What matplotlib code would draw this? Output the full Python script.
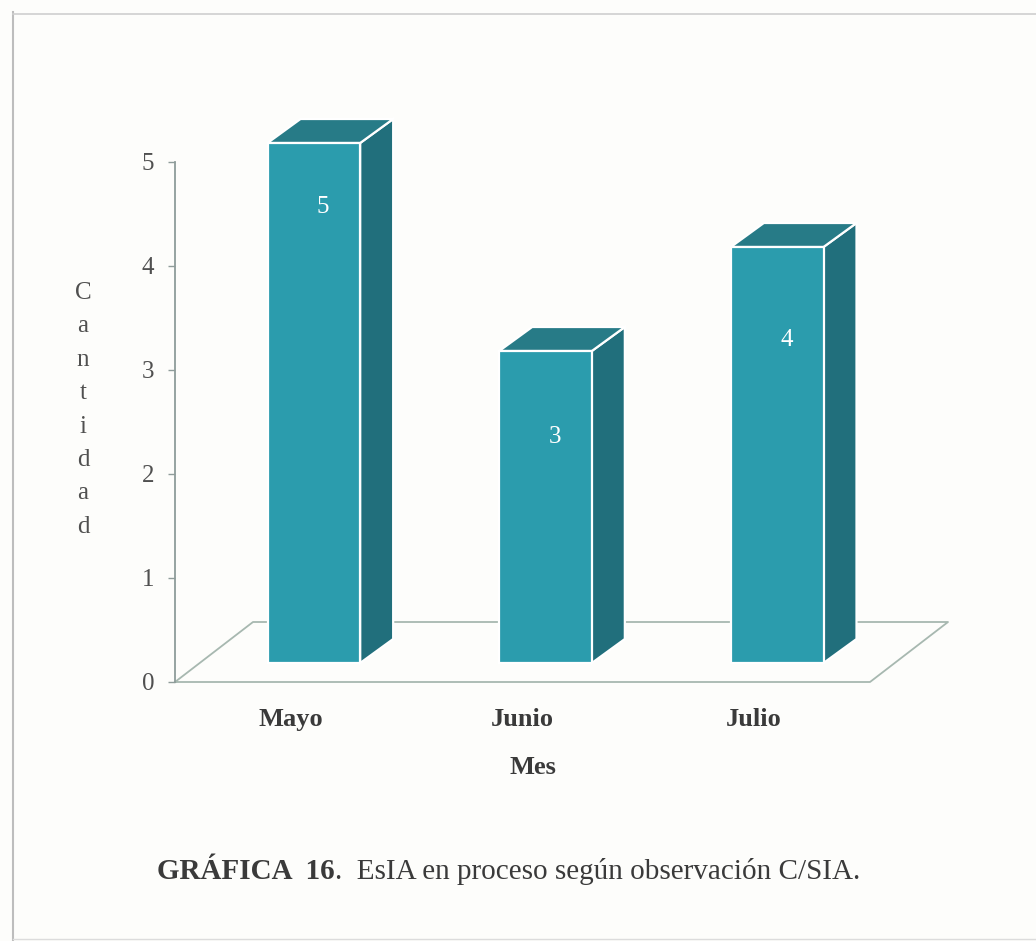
import matplotlib.pyplot as plt
from matplotlib.patches import Polygon

# datos de la gráfica
meses = ["Mayo", "Junio", "Julio"]
cantidad = [5, 3, 4]
y_ticks = [0, 1, 2, 3, 4, 5]
y_label = "Cantidad"
x_label = "Mes"
titulo_num = "GRÁFICA  16"
titulo_txt = ".  EsIA en proceso según observación C/SIA."

W, H = 1036, 941
plt.rcParams['font.family'] = ['Liberation Serif', 'DejaVu Serif']

fig = plt.figure(figsize=(W / 100, H / 100), dpi=100)
fig.patch.set_facecolor('#fdfdfb')

# ejes: y=0 en px 682, y=5 en px 162 ; x de 175 a 870
ax = fig.add_axes([175 / W, 1 - 682 / H, (870 - 175) / W, (682 - 162) / H])
ax.set_facecolor('none')
ax.set_xlim(-0.5, len(meses) - 0.5)
ax.set_ylim(0, 5)

px_x = (870 - 175) / len(meses)   # px por unidad x
px_y = (682 - 162) / 5            # px por unidad y

# piso en perspectiva
fdx, fdy = 78 / px_x, 60 / px_y
x0, x1 = -0.5, len(meses) - 0.5
piso = [(x0, 0), (x1, 0), (x1 + fdx, fdy), (x0 + fdx, fdy), (x0, 0)]
ax.plot([p[0] for p in piso], [p[1] for p in piso], color='#a7b8b0', lw=1.3,
        clip_on=False, zorder=1)

# barras 3D
ancho = 0.4
sx, sy = 23 / px_x, 19 / px_y     # desplazamiento dentro del piso
ddx, ddy = 33 / px_x, 24 / px_y   # profundidad de la barra
c_frente, c_arriba, c_lado = '#2b9cad', '#277b87', '#216f7c'
for i, v in enumerate(cantidad):
    bx = i - ancho / 2 + sx
    b = sy
    frente = [(bx, b), (bx + ancho, b), (bx + ancho, b + v), (bx, b + v)]
    arriba = [(bx, b + v), (bx + ancho, b + v),
              (bx + ancho + ddx, b + v + ddy), (bx + ddx, b + v + ddy)]
    lado = [(bx + ancho, b), (bx + ancho + ddx, b + ddy),
            (bx + ancho + ddx, b + v + ddy), (bx + ancho, b + v)]
    for pts, col in [(lado, c_lado), (arriba, c_arriba), (frente, c_frente)]:
        ax.add_patch(Polygon(pts, closed=True, facecolor=col, edgecolor='white',
                             lw=1.6, clip_on=False, zorder=3))

# etiquetas de valor
label_y = [4.57, 2.36, 3.29]
for i, v in enumerate(cantidad):
    ax.text(i + sx + 0.04, label_y[i], str(v), color='white', fontsize=18,
            ha='center', va='center', zorder=5)

# ejes y ticks
for s in ['top', 'right', 'bottom']:
    ax.spines[s].set_visible(False)
ax.spines['left'].set_color('#8e9c9a')
ax.spines['left'].set_linewidth(1.3)
ax.set_yticks(y_ticks)
ax.set_yticklabels([str(t) for t in y_ticks])
ax.tick_params(axis='y', direction='out', length=5, width=1, color='#8e9c9a',
               labelsize=18, labelcolor='#505050', pad=10)
ax.set_xticks(range(len(meses)))
ax.set_xticklabels(meses, fontweight='bold', fontsize=19, color='#3a3a3a')
ax.tick_params(axis='x', length=0, pad=19)

# etiqueta eje y, letra por letra
for k, ch in enumerate(y_label):
    fig.text(83 / W, 1 - (293 + k * 33.4) / H, ch, fontsize=18, color='#505050',
             ha='center', va='center')

fig.text(533 / W, 1 - 768 / H, x_label, fontsize=19, fontweight='bold',
         color='#3a3a3a', ha='center', va='center')

# pie de figura
t1 = fig.text(157 / W, 1 - 879 / H, titulo_num, fontsize=21, fontweight='bold',
              color='#3a3a3a', ha='left', va='baseline')
ax.annotate(titulo_txt, xy=(1, 0), xycoords=t1, fontsize=21, color='#3a3a3a',
            ha='left', va='bottom', annotation_clip=False)

# marco de la página
fig.add_artist(plt.Line2D([13 / W, 13 / W], [0, 1 - 12 / H], color='#bdbdbd', lw=1.5))
fig.add_artist(plt.Line2D([13 / W, 1], [1 - 14 / H, 1 - 14 / H], color='#cfcfcf', lw=1.2))
fig.add_artist(plt.Line2D([13 / W, 1], [2.5 / H, 2.5 / H], color='#dcdcdc', lw=1))

fig.savefig('out.png', dpi=100, facecolor=fig.get_facecolor())
